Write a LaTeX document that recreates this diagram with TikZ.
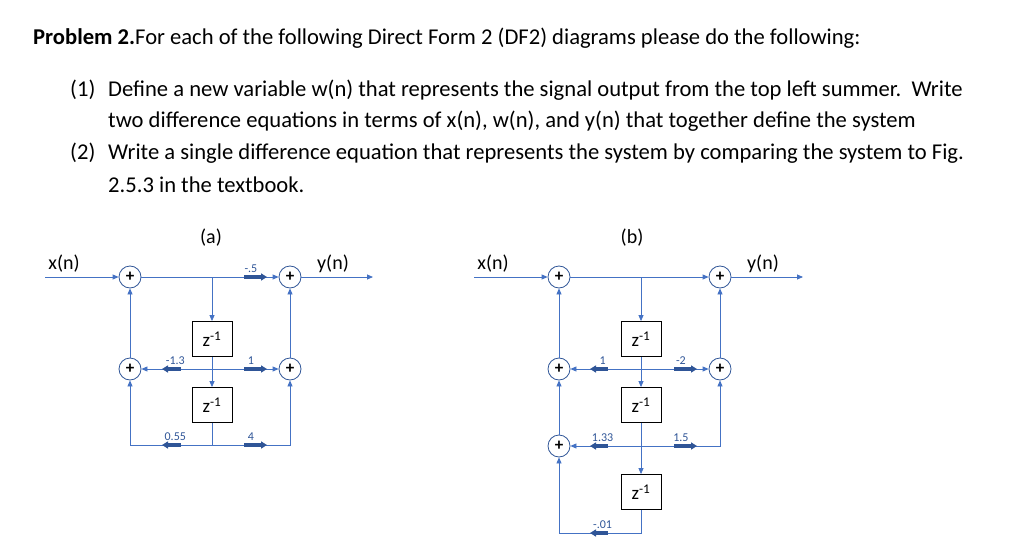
\documentclass[tikz,border=0pt]{standalone}
\usepackage{fontspec}
\setmainfont{Carlito}
\usetikzlibrary{arrows.meta}
\definecolor{ln}{RGB}{68,114,196}
\definecolor{gn}{RGB}{47,85,151}
\begin{document}
\begin{tikzpicture}[x=1pt,y=-1pt,
 sum/.style={circle,draw=gn,thick,minimum size=22pt,inner sep=0pt,fill=white,font=\fontsize{17}{17}\selectfont\bfseries},
 dly/.style={draw,thick,minimum width=40pt,minimum height=35pt,fill=white,font=\fontsize{19}{19}\selectfont},
 w/.style={ln,line width=0.8pt},
 a/.style={w,-{Triangle[length=6pt,width=5pt]}},
 g/.style={gn,line width=3.5pt,-{Triangle[length=6pt,width=7pt]}},
 gl/.style={font=\fontsize{12}{12}\selectfont,inner sep=1pt},
 lab/.style={font=\fontsize{20}{20}\selectfont},
 txt/.style={font=\fontsize{22.6}{22.6}\selectfont,anchor=base west,inner sep=0pt}]
\useasboundingbox (0,0) rectangle (1024,548);
\node[txt] (t0) at (33,45) {\textbf{Problem 2.}For each of the following Direct Form 2 (DF2) diagrams please do the following:};
\node[txt] (t1) at (70,97) {(1)};
\node[txt] (t1a) at (108,97) {Define a new variable w(n) that represents the signal output from the top left summer.\ \ Write};
\node[txt] (t1b) at (108,128) {two difference equations in terms of x(n), w(n), and y(n) that together define the system};
\node[txt] (t2) at (70,160) {(2)};
\node[txt] (t2a) at (108,160) {Write a single difference equation that represents the system by comparing the system to Fig.};
\node[txt] (t2b) at (108,192) {2.5.3 in the textbook.};
% ---- (a)
\node[lab] (la) at (211,238) {(a)};
\node[lab] (xa) at (64,264) {x(n)};
\node[lab] (ya) at (333,264) {y(n)};
\coordinate (ain) at (45,277); \coordinate (aout) at (373,277);
\node[sum] (s1) at (130,277) {+};
\node[sum] (s2) at (290,277) {+};
\node[sum] (s3) at (130,369) {+};
\node[sum] (s4) at (290,369) {+};
\node[dly] (d1) at (212,339) {z\textsuperscript{-1}};
\node[dly] (d2) at (212,405) {z\textsuperscript{-1}};
\coordinate (at) at (212,277); \coordinate (am) at (212,369); \coordinate (ab) at (212,445);
\draw[a] (ain) -- (s1);
\draw[a] (s2) -- (aout);
\draw[a] (s1) -- (s2);
\draw[a] (at) -- (d1);
\draw[a] (d1) -- (d2);
\draw[a] (am) -- (s3);
\draw[a] (am) -- (s4);
\draw[a] (s3) -- (s1);
\draw[a] (s4) -- (s2);
\draw[a] (d2) -- (ab) -| (s3);
\draw[a] (ab) -| (s4);
\draw[g] (244,277) -- (267,277) node[gl,pos=0.3,above=2pt] (ga1) {-.5};
\draw[g] (181,369) -- (162,369) node[gl,pos=0.3,above=2pt] (ga2) {-1.3};
\draw[g] (244,369) -- (267,369) node[gl,pos=0.3,above=2pt] (ga3) {1};
\draw[g] (181,445) -- (162,445) node[gl,pos=0.3,above=2pt] (ga4) {0.55};
\draw[g] (244,445) -- (267,445) node[gl,pos=0.3,above=2pt] (ga5) {4};
% ---- (b)
\node[lab] (lb) at (632,238) {(b)};
\node[lab] (xb) at (493,264) {x(n)};
\node[lab] (yb) at (763,264) {y(n)};
\coordinate (bin) at (474,277); \coordinate (bout) at (803,277);
\node[sum] (b1) at (559,277) {+};
\node[sum] (b2) at (720,277) {+};
\node[sum] (b3) at (559,369) {+};
\node[sum] (b4) at (720,369) {+};
\node[sum] (b5) at (559,446) {+};
\node[dly] (e1) at (641,339) {z\textsuperscript{-1}};
\node[dly] (e2) at (641,405) {z\textsuperscript{-1}};
\node[dly] (e3) at (641,492) {z\textsuperscript{-1}};
\coordinate (bt) at (641,277); \coordinate (bm) at (641,369); \coordinate (bl) at (641,446);
\coordinate (bb) at (641,533);
\draw[a] (bin) -- (b1);
\draw[a] (b2) -- (bout);
\draw[a] (b1) -- (b2);
\draw[a] (bt) -- (e1);
\draw[a] (e1) -- (e2);
\draw[a] (e2) -- (e3);
\draw[a] (bm) -- (b3);
\draw[a] (bm) -- (b4);
\draw[a] (bl) -- (b5);
\draw[a] (bl) -| (b4);
\draw[a] (b3) -- (b1);
\draw[a] (b5) -- (b3);
\draw[a] (b4) -- (b2);
\draw[a] (e3) -- (bb) -| (b5);
\draw[g] (608,369) -- (590,369) node[gl,pos=0.3,above=2pt] (gb1) {1};
\draw[g] (674,369) -- (697,369) node[gl,pos=0.3,above=2pt] (gb2) {-2};
\draw[g] (608,446) -- (590,446) node[gl,pos=0.3,above=2pt] (gb3) {1.33};
\draw[g] (674,446) -- (697,446) node[gl,pos=0.3,above=2pt] (gb4) {1.5};
\draw[g] (608,533) -- (590,533) node[gl,pos=0.3,above=2pt] (gb5) {-.01};
\end{tikzpicture}
\end{document}
